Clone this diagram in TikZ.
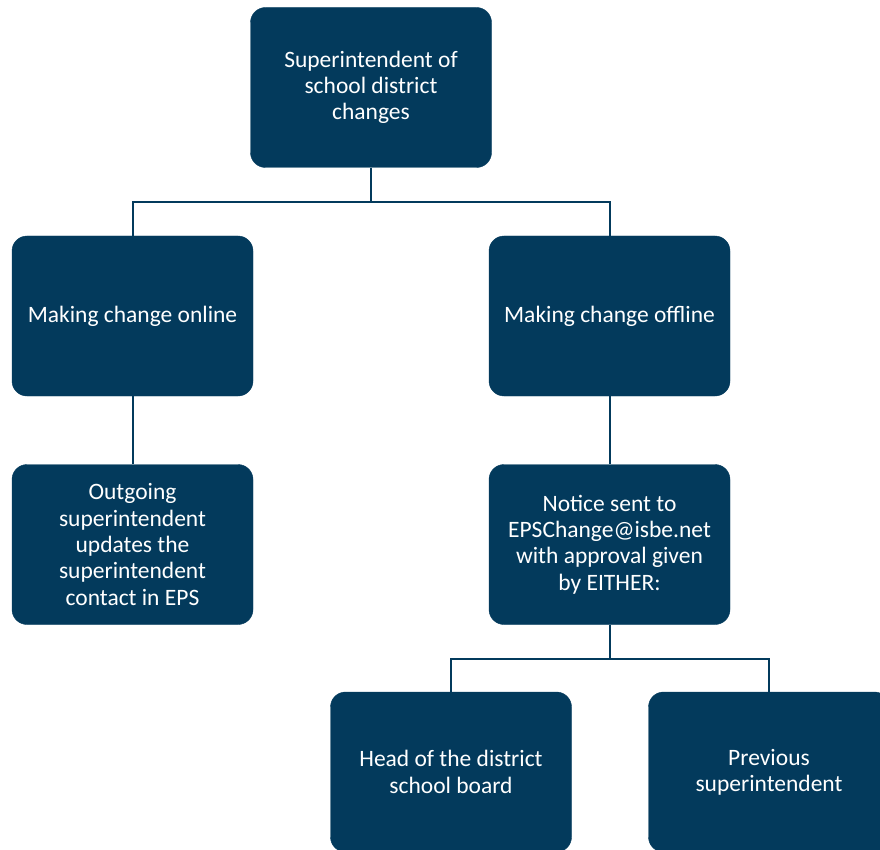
\documentclass[tikz,border=0pt]{standalone}
\usepackage{fontspec}
\setmainfont{Carlito}
\usepackage{tikz}
\usetikzlibrary{positioning}
\usepackage{xcolor}
\definecolor{navy}{HTML}{033A5C}

\tikzset{
	chartbox/.style={fill=navy, draw=navy, rounded corners=15pt, minimum width=241pt, minimum height=160pt, inner sep=0pt, align=center, text=white, font=\fontsize{23.5}{26.3}\selectfont},
	link/.style={draw=navy, line width=2pt}
}

\begin{document}
\begin{tikzpicture}[x=1pt, y=-1pt]
				\useasboundingbox (0,0) rectangle (880,850);
				\node[chartbox] (top) at (371,87.5) {Superintendent of\\school district\\changes};
				\node[chartbox] (online) at (132.5,316) {Making change online};
				\node[chartbox] (offline) at (609.5,316) {Making change offline};
				\node[chartbox] (outgoing) at (132.5,544.5) {Outgoing\\superintendent\\updates the\\superintendent\\contact in EPS};
				\node[chartbox] (notice) at (609.5,544.5) {Notice sent to\\EPSChange@isbe.net\\with approval given\\by EITHER:};
				\node[chartbox] (head) at (451,772) {Head of the district\\school board};
				\node[chartbox] (previous) at (769,772) {Previous\\superintendent};
				\draw[link] (top.south) -- ++(0,34.5) coordinate (split1);
				\draw[link] (split1) -| (online.north);
				\draw[link] (split1) -| (offline.north);
				\draw[link] (online.south) -- (outgoing.north);
				\draw[link] (offline.south) -- (notice.north);
				\draw[link] (notice.south) -- ++(0,34) coordinate (split2);
				\draw[link] (split2) -| (head.north);
				\draw[link] (split2) -| (previous.north);
			\end{tikzpicture}
\end{document}
